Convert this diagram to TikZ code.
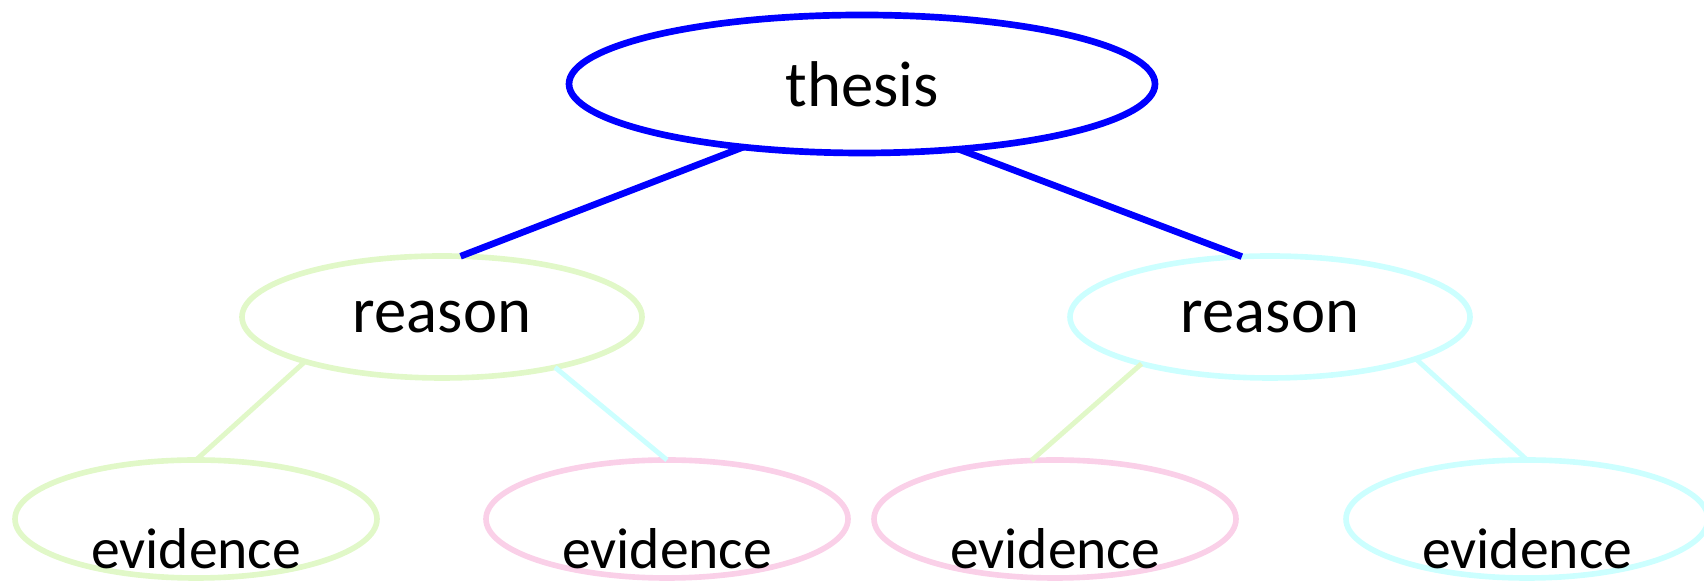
\documentclass[tikz,border=0pt]{standalone}
\usepackage{fontspec}
\setmainfont{Carlito}
\usepackage{xcolor}
\usepackage{tikz}
\usetikzlibrary{shapes.geometric, positioning, calc}
\definecolor{myblue}{RGB}{0,0,255}
\definecolor{mygreen}{RGB}{225,248,200}
\definecolor{mypink}{RGB}{250,208,232}
\definecolor{mycyan}{RGB}{204,255,255}
\tikzset{
  topnode/.style={ellipse, draw=myblue, line width=1.9pt, inner sep=0pt, outer sep=0pt,
    minimum width=5.86cm, minimum height=1.38cm, font=\fontsize{18.4}{22}\selectfont},
  midnode/.style={ellipse, line width=1.6pt, inner sep=0pt, outer sep=0pt,
    minimum width=4.0cm, minimum height=1.22cm, font=\fontsize{18.4}{22}\selectfont},
  leafnode/.style={ellipse, line width=1.6pt, inner sep=0pt, outer sep=0pt,
    minimum width=3.62cm, minimum height=1.18cm},
  leaftext/.style={anchor=base, inner sep=0pt, font=\fontsize{16.4}{20}\selectfont},
  bluelink/.style={draw=myblue, line width=1.9pt},
  link/.style={line width=1.4pt}
}
\begin{document}
\begin{tikzpicture}
  \useasboundingbox (0,0) rectangle (17.04,5.81);

  % Thesis (top)
  \node[topnode] (thesis) at (8.62,4.97) {thesis};

  % Reasons (middle)
  \node[midnode, draw=mygreen] (r1) at (4.42,2.64) {reason};
  \node[midnode, draw=mycyan] (r2) at (12.70,2.64) {reason};

  % Evidence (bottom)
  \node[leafnode, draw=mygreen] (e1) at (1.96,0.62) {};
  \node[leafnode, draw=mypink] (e2) at (6.67,0.62) {};
  \node[leafnode, draw=mypink] (e3) at (10.55,0.62) {};
  \node[leafnode, draw=mycyan] (e4) at (15.27,0.62) {};
  \node[leaftext] (t1) at (1.96,0.12) {evidence};
  \node[leaftext] (t2) at (6.67,0.12) {evidence};
  \node[leaftext] (t3) at (10.55,0.12) {evidence};
  \node[leaftext] (t4) at (15.27,0.12) {evidence};

  % Links
  \draw[bluelink] (thesis.208) -- (r1.73);
  \draw[bluelink] (thesis.326) -- (r2.115);
  \draw[link, draw=mygreen] (r1.198) -- (e1.north);
  \draw[link, draw=mycyan] (r1.336) -- (e2.north);
  \draw[link, draw=mygreen] (r2.200) -- (e3.112);
  \draw[link, draw=mycyan] (r2.344) -- (e4.north);
\end{tikzpicture}
\end{document}
